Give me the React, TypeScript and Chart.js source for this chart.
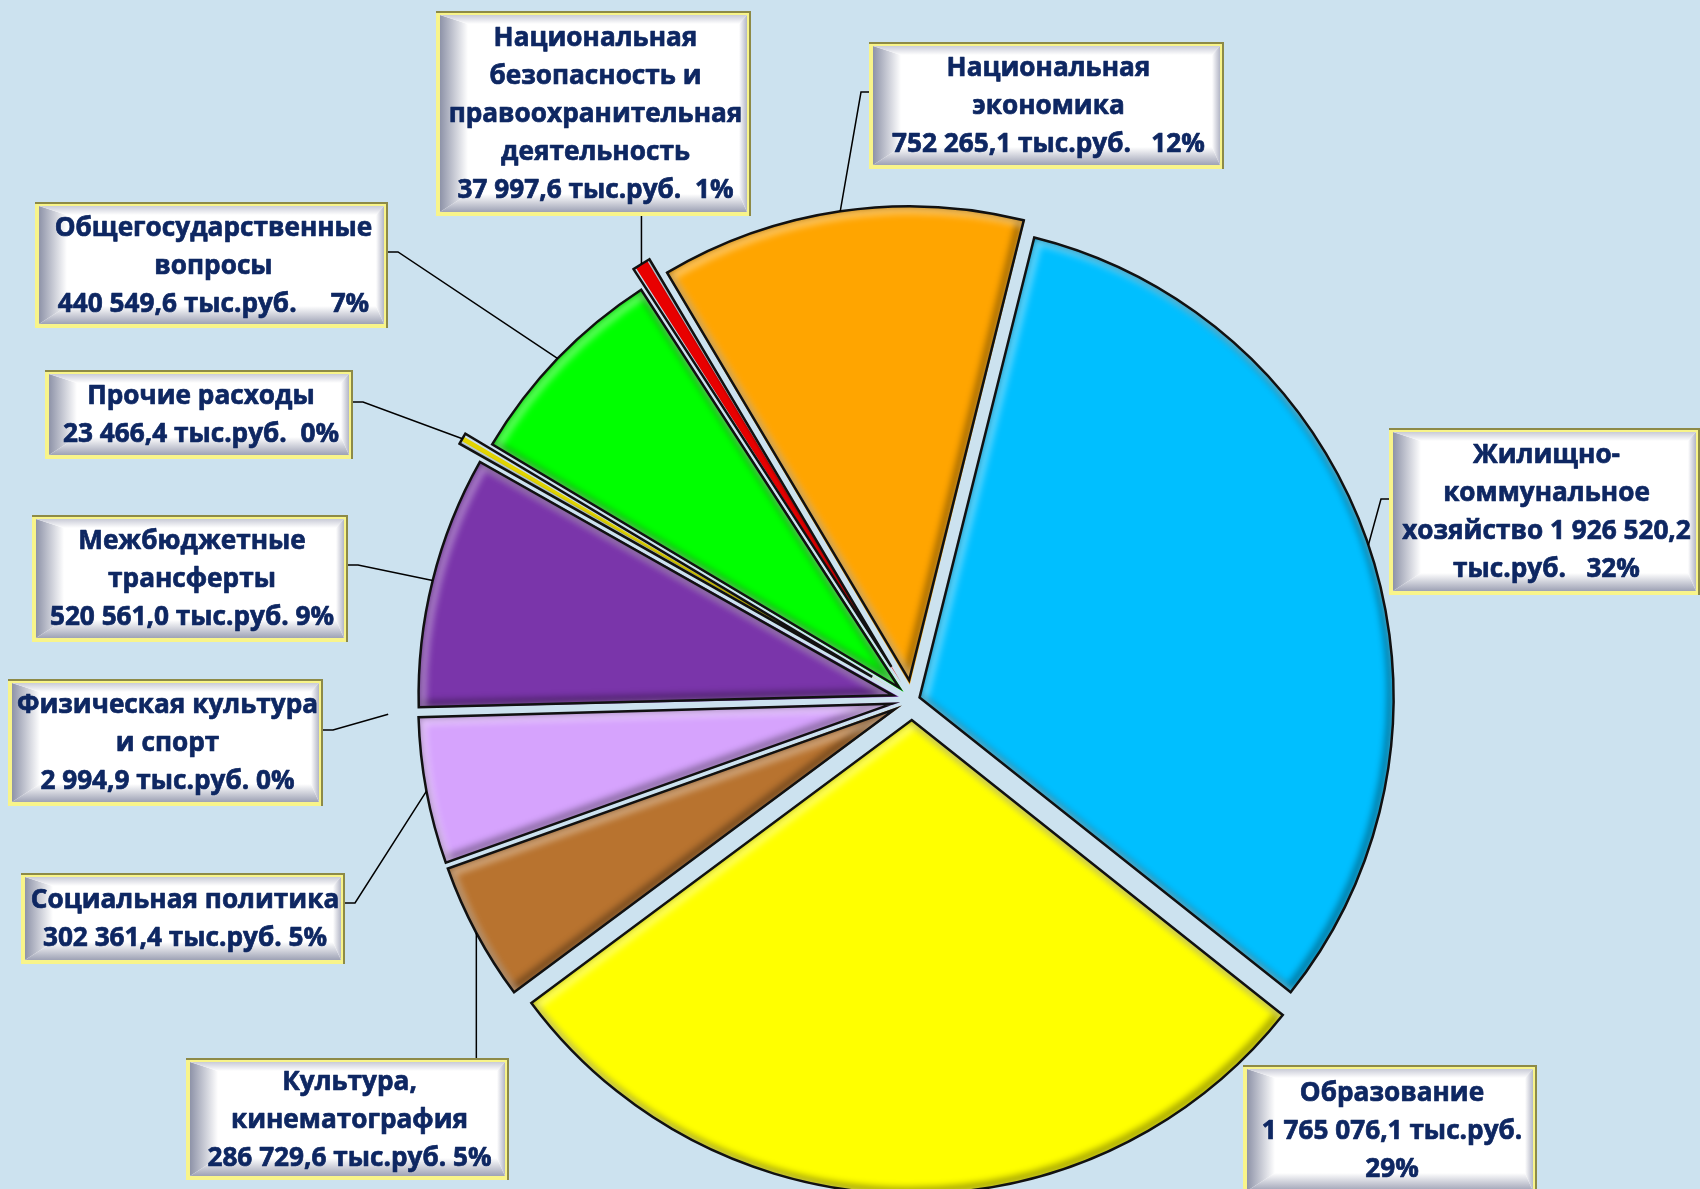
import React, { useEffect, useRef } from 'react';
import { Chart, registerables } from 'chart.js';

Chart.register(...registerables);

// ---------- data ----------
const categories = [
  'Жилищно-коммунальное хозяйство',
  'Образование',
  'Культура, кинематография',
  'Социальная политика',
  'Физическая культура и спорт',
  'Межбюджетные трансферты',
  'Прочие расходы',
  'Общегосударственные вопросы',
  'Национальная безопасность и правоохранительная деятельность',
  'Национальная экономика',
];
const values = [1926520.2, 1765076.1, 286729.6, 302361.4, 2994.9, 520561.0, 23466.4, 440549.6, 37997.6, 752265.1];
const unit = 'тыс.руб.';
// label line templates ({v} value, {u} unit, {p} percent)
const labelTemplates = [
  ['Жилищно-', 'коммунальное', 'хозяйство {v}', '{u}   {p}'],
  ['Образование', '{v} {u}', '{p}'],
  ['Культура,', 'кинематография', '{v} {u} {p}'],
  ['Социальная политика', '{v} {u} {p}'],
  ['Физическая культура', 'и спорт', '{v} {u} {p}'],
  ['Межбюджетные', 'трансферты', '{v} {u} {p}'],
  ['Прочие расходы', '{v} {u}  {p}'],
  ['Общегосударственные', 'вопросы', '{v} {u}     {p}'],
  ['Национальная', 'безопасность и', 'правоохранительная', 'деятельность', '{v} {u}  {p}'],
  ['Национальная', 'экономика', '{v} {u}   {p}'],
];

// ---------- styles / layout ----------
const colors = ['#00bfff', '#ffff00', '#b8732f', '#d6a3fd', '#bcd6e8', '#7a35aa', '#e2d400', '#00ff00', '#e80000', '#ffa500'];
const explode = [8, 20, 20, 20, 50, 20, 46, 18, 39, 20];
const boxes = [
  { x: 1389, y: 428, w: 311, h: 167, side: 'left', sy: 499 },
  { x: 1243, y: 1065, w: 294, h: 130, side: 'none', sy: 0 },
  { x: 186, y: 1058, w: 323, h: 122, side: 'top', sy: 0 },
  { x: 21, y: 873, w: 324, h: 91, side: 'right', sy: 903 },
  { x: 8, y: 679, w: 315, h: 127, side: 'right', sy: 730 },
  { x: 32, y: 515, w: 316, h: 127, side: 'right', sy: 565 },
  { x: 45, y: 370, w: 308, h: 89, side: 'right', sy: 402 },
  { x: 35, y: 202, w: 353, h: 126, side: 'right', sy: 252 },
  { x: 436, y: 11, w: 315, h: 205, side: 'bottom', sy: 0 },
  { x: 869, y: 42, w: 355, h: 127, side: 'left', sy: 92 },
];
const BG = '#cce2ef';
const TEXT_COLOR = '#0e2762';
const FONT_SIZE = 27;
const LINE_H = 38;
const SQUEEZE = 0.97;

const total = values.reduce((a, b) => a + b, 0);

function fmtValue(v: number): string {
  const [i, d] = v.toFixed(1).split('.');
  return i.replace(/\B(?=(\d{3})+(?!\d))/g, ' ') + ',' + d;
}
const labelLines = labelTemplates.map((tpl, i) =>
  tpl.map((t) =>
    t.replace('{v}', fmtValue(values[i]))
      .replace('{u}', unit)
      .replace('{p}', Math.round((values[i] / total) * 100) + '%')
  )
);

// Chart.js arc offset -> actual translation: t = offset/4 * (1 + fix)
const offsets = values.map((v, i) => {
  const circ = (v / total) * Math.PI * 2;
  const fix = 1 - Math.sin(Math.min(Math.PI, circ));
  return (4 * explode[i]) / (1 + fix);
});

function arcGeom(el: any) {
  const p = el.getProps(['x', 'y', 'startAngle', 'endAngle', 'outerRadius', 'circumference'], true);
  const off = (el.options && el.options.offset) || 0;
  const half = (p.startAngle + p.endAngle) / 2;
  const fix = 1 - Math.sin(Math.min(Math.PI, p.circumference || 0));
  const t = (off / 4) * (1 + fix);
  return {
    cx: p.x + Math.cos(half) * t,
    cy: p.y + Math.sin(half) * t,
    r: p.outerRadius,
    s: p.startAngle,
    e: p.endAngle,
    half,
  };
}

const bevelPlugin = {
  id: 'bevel',
  afterDatasetsDraw(chart: any) {
    const ctx: CanvasRenderingContext2D = chart.ctx;
    const meta = chart.getDatasetMeta(0);
    meta.data.forEach((el: any) => {
      const g = arcGeom(el);
      const span = g.e - g.s;
      if (span < 0.01) return;
      const path = new Path2D();
      path.moveTo(g.cx, g.cy);
      path.arc(g.cx, g.cy, g.r, g.s, g.e);
      path.closePath();
      const thin = span < 0.06;
      ctx.save();
      ctx.clip(path);
      ctx.filter = thin ? 'blur(1px)' : 'blur(3px)';
      ctx.lineJoin = 'miter';
      ctx.save();
      ctx.translate(-2.5, -2.5);
      ctx.lineWidth = thin ? 3 : 9;
      ctx.strokeStyle = thin ? 'rgba(0,0,0,0.25)' : 'rgba(0,0,0,0.32)';
      ctx.stroke(path);
      ctx.restore();
      if (!thin) {
        ctx.save();
        ctx.translate(4, 4);
        ctx.lineWidth = 8;
        ctx.strokeStyle = 'rgba(255,255,255,0.35)';
        ctx.stroke(path);
        ctx.restore();
      }
      ctx.restore();
      ctx.save();
      ctx.lineWidth = 2.5;
      ctx.strokeStyle = '#111111';
      ctx.lineJoin = 'miter';
      ctx.stroke(path);
      ctx.restore();
    });
  },
};

function drawBox(ctx: CanvasRenderingContext2D, b: any) {
  const { x, y, w, h } = b;
  ctx.save();
  ctx.fillStyle = '#f8f48a';
  ctx.fillRect(x, y, w, h);
  ctx.fillStyle = '#8d8a47';
  ctx.fillRect(x, y, w, 2);
  ctx.fillRect(x + w - 2, y, 2, h);
  const ix = x + 4, iy = y + 4, iw = w - 8, ih = h - 8;
  ctx.fillStyle = '#ffffff';
  ctx.fillRect(ix, iy, iw, ih);
  const L = 28, B = 18, T = 9, R = 8;
  let g = ctx.createLinearGradient(ix, 0, ix + L, 0);
  g.addColorStop(0, '#8e93a8');
  g.addColorStop(1, '#ffffff');
  ctx.fillStyle = g;
  ctx.beginPath();
  ctx.moveTo(ix, iy); ctx.lineTo(ix + L, iy + T); ctx.lineTo(ix + L, iy + ih - B); ctx.lineTo(ix, iy + ih);
  ctx.closePath(); ctx.fill();
  g = ctx.createLinearGradient(0, iy + ih - B, 0, iy + ih);
  g.addColorStop(0, '#ffffff');
  g.addColorStop(1, '#9ea2b5');
  ctx.fillStyle = g;
  ctx.beginPath();
  ctx.moveTo(ix, iy + ih); ctx.lineTo(ix + L, iy + ih - B); ctx.lineTo(ix + iw - R, iy + ih - B); ctx.lineTo(ix + iw, iy + ih);
  ctx.closePath(); ctx.fill();
  g = ctx.createLinearGradient(0, iy, 0, iy + T);
  g.addColorStop(0, '#c9cbd7');
  g.addColorStop(1, '#ffffff');
  ctx.fillStyle = g;
  ctx.beginPath();
  ctx.moveTo(ix, iy); ctx.lineTo(ix + iw, iy); ctx.lineTo(ix + iw - R, iy + T); ctx.lineTo(ix + L, iy + T);
  ctx.closePath(); ctx.fill();
  g = ctx.createLinearGradient(ix + iw - R, 0, ix + iw, 0);
  g.addColorStop(0, '#ffffff');
  g.addColorStop(1, '#b3b6c6');
  ctx.fillStyle = g;
  ctx.beginPath();
  ctx.moveTo(ix + iw, iy); ctx.lineTo(ix + iw, iy + ih); ctx.lineTo(ix + iw - R, iy + ih - B); ctx.lineTo(ix + iw - R, iy + T);
  ctx.closePath(); ctx.fill();
  ctx.restore();
}

function drawText(ctx: CanvasRenderingContext2D, b: any, lines: string[]) {
  ctx.save();
  ctx.font = `bold ${FONT_SIZE}px "Open Sans"`;
  ctx.fillStyle = TEXT_COLOR;
  ctx.strokeStyle = TEXT_COLOR;
  ctx.lineWidth = 0.7;
  ctx.lineJoin = 'round';
  ctx.textAlign = 'center';
  ctx.textBaseline = 'middle';
  const cx = b.x + b.w / 2 + 2;
  const cy = b.y + b.h / 2 + 1;
  const n = lines.length;
  lines.forEach((t, k) => {
    const y = cy + (k - (n - 1) / 2) * LINE_H;
    const w = ctx.measureText(t).width;
    const mw = Math.min(w * SQUEEZE, b.w - 12);
    ctx.fillText(t, cx, y, mw);
    ctx.strokeText(t, cx, y, mw);
  });
  ctx.restore();
}

const labelPlugin = {
  id: 'boxLabels',
  afterDraw(chart: any) {
    const ctx: CanvasRenderingContext2D = chart.ctx;
    const meta = chart.getDatasetMeta(0);
    boxes.forEach((b, i) => {
      const g = arcGeom(meta.data[i]);
      const ax = g.cx + Math.cos(g.half) * g.r;
      const ay = g.cy + Math.sin(g.half) * g.r;
      if (b.side !== 'none') {
        ctx.save();
        ctx.strokeStyle = '#000000';
        ctx.lineWidth = 1.5;
        ctx.beginPath();
        if (b.side === 'left') {
          ctx.moveTo(b.x, b.sy); ctx.lineTo(b.x - 8, b.sy); ctx.lineTo(ax, ay);
        } else if (b.side === 'right') {
          ctx.moveTo(b.x + b.w, b.sy); ctx.lineTo(b.x + b.w + 10, b.sy); ctx.lineTo(ax, ay);
        } else if (b.side === 'top') {
          ctx.moveTo(ax, b.y); ctx.lineTo(ax, ay);
        } else if (b.side === 'bottom') {
          ctx.moveTo(ax, b.y + b.h); ctx.lineTo(ax, ay);
        }
        ctx.stroke();
        ctx.restore();
      }
      drawBox(ctx, b);
      drawText(ctx, b, labelLines[i]);
    });
  },
};

export default function App() {
  const ref = useRef<HTMLCanvasElement | null>(null);
  useEffect(() => {
    document.body.style.margin = '0';
    document.body.style.background = BG;
    const canvas = ref.current;
    if (!canvas) return;
    const chart = new Chart(canvas, {
      type: 'pie',
      data: {
        labels: categories,
        datasets: [
          {
            data: values,
            backgroundColor: colors,
            borderWidth: 0,
            offset: offsets,
            hoverOffset: 0,
            clip: false,
          } as any,
        ],
      },
      options: {
        responsive: false,
        animation: false,
        devicePixelRatio: 1,
        rotation: 14,
        radius: 474,
        layout: { padding: { left: 124, right: 0, top: 211, bottom: 0 } },
        events: [],
        plugins: { legend: { display: false }, tooltip: { enabled: false } },
      } as any,
      plugins: [bevelPlugin, labelPlugin],
    });
    return () => chart.destroy();
  }, []);
  return (
    <div style={{ width: 1700, height: 1189, background: BG, overflow: 'hidden' }}>
      <canvas ref={ref} width={1700} height={1189} style={{ display: 'block' }} />
    </div>
  );
}
